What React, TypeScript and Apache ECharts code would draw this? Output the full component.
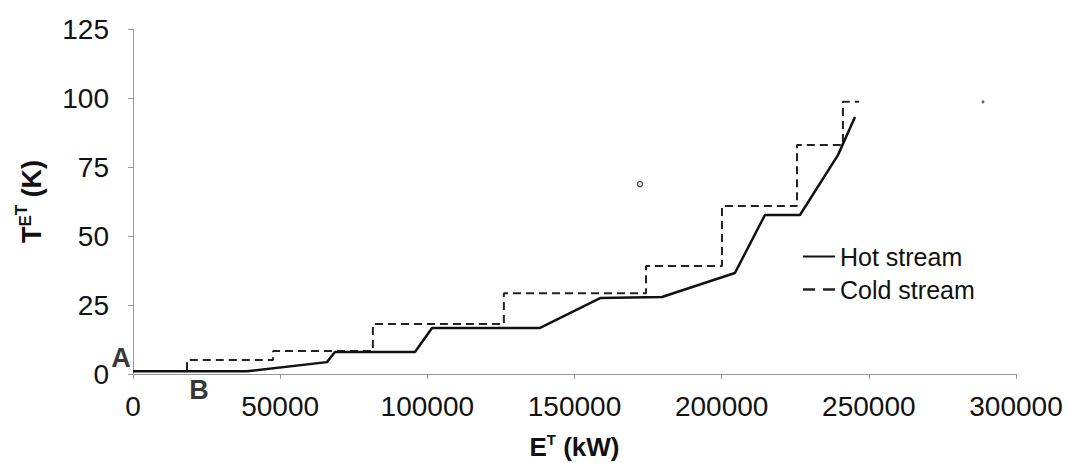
import React, { useEffect, useRef } from "react";
import * as echarts from "echarts";

// Hot stream composite curve (E^T in kW, T^ET in K)
const hotStream: [number, number][] = [
  [0, 1.0],
  [38700, 1.0],
  [65900, 4.3],
  [68600, 8.0],
  [95800, 8.0],
  [101600, 16.7],
  [138300, 16.7],
  [158700, 27.5],
  [179700, 27.9],
  [204500, 36.6],
  [214700, 57.6],
  [226600, 57.6],
  [239500, 79.3],
  [245300, 93.1],
];

// Cold stream composite curve
const coldStream: [number, number][] = [
  [18350, 1.4],
  [18350, 5.1],
  [47600, 5.1],
  [47600, 8.3],
  [81500, 8.3],
  [81500, 18.1],
  [126000, 18.1],
  [126000, 29.3],
  [174300, 29.3],
  [174300, 39.1],
  [200100, 39.1],
  [200100, 60.9],
  [225600, 60.9],
  [225600, 83.0],
  [241200, 83.0],
  [241200, 98.6],
  [246700, 98.6],
];

// Stray marks in the plot area
const strayHollow: [number, number][] = [[172250, 68.8]];
const strayDot: [number, number][] = [[288800, 98.6]];

// Point annotations
const pointA: [number, number] = [0, 1];
const pointB: [number, number] = [22400, 1];

const xTicks = { min: 0, max: 300000, interval: 50000 };
const yTicks = { min: 0, max: 125, interval: 25 };

const FONT = 'Arial, "Liberation Sans", Helvetica, sans-serif';

export default function App() {
  const ref = useRef<HTMLDivElement>(null);

  useEffect(() => {
    if (!ref.current) return;
    const chart = echarts.init(ref.current, undefined, { renderer: "svg" });
    chart.setOption({
      animation: false,
      backgroundColor: "#ffffff",
      textStyle: { fontFamily: FONT },
      grid: { left: 133, right: 55, top: 29, bottom: 89, containLabel: false, outerBoundsMode: "none" },
      legend: {
        orient: "vertical",
        left: 798,
        top: 239,
        itemWidth: 32,
        itemHeight: 10,
        itemGap: 8,
        textStyle: { fontSize: 25, color: "#111", fontFamily: FONT },
        data: [
          { name: "Hot stream", icon: "path://M0,0 L32,0 L32,2 L0,2 Z" },
          { name: "Cold stream", icon: "path://M0,0 L9,0 L9,2 L0,2 Z M15,0 L24,0 L24,2 L15,2 Z" },
        ],
      },
      xAxis: {
        type: "value",
        min: xTicks.min,
        max: xTicks.max,
        interval: xTicks.interval,
        splitLine: { show: false },
        axisLine: { lineStyle: { color: "#999", width: 1 } },
        axisTick: { show: true, length: 5, lineStyle: { color: "#999" } },
        axisLabel: {
          fontSize: 28,
          color: "#111",
          margin: 18,
          fontFamily: FONT,
          formatter: (v: number) => String(v),
        },
        name: "{b|E}{s|T}{b| (kW)}",
        nameLocation: "middle",
        nameGap: 58,
        nameTextStyle: {
          rich: {
            b: { fontSize: 26, fontWeight: "bold", color: "#111", fontFamily: FONT },
            s: { fontSize: 15, fontWeight: "bold", color: "#111", fontFamily: FONT, padding: [0, 0, 14, 0] },
          },
        },
      },
      yAxis: {
        type: "value",
        min: yTicks.min,
        max: yTicks.max,
        interval: yTicks.interval,
        splitLine: { show: false },
        axisLine: { show: true, lineStyle: { color: "#999", width: 1 } },
        axisTick: { show: true, length: 5, lineStyle: { color: "#999" } },
        axisLabel: { fontSize: 28, color: "#111", margin: 24, fontFamily: FONT },
        name: "{b|T}{s|E}{ss|T}{b| (K)}",
        nameLocation: "middle",
        nameGap: 83,
        nameRotate: 90,
        nameTextStyle: {
          rich: {
            b: { fontSize: 27, fontWeight: "bold", color: "#111", fontFamily: FONT },
            s: { fontSize: 17, fontWeight: "bold", color: "#111", fontFamily: FONT, padding: [0, 0, 12, 0] },
            ss: { fontSize: 17, fontWeight: "bold", color: "#111", fontFamily: FONT, padding: [0, 0, 20, 0] },
          },
        },
      },
      series: [
        {
          name: "Hot stream",
          type: "line",
          data: hotStream,
          symbol: "none",
          lineStyle: { color: "#111", width: 2.5, type: "solid" },
          itemStyle: { color: "#111" },
          z: 3,
        },
        {
          name: "Cold stream",
          type: "line",
          data: coldStream,
          symbol: "none",
          lineStyle: { color: "#222", width: 2, type: [8, 5] },
          itemStyle: { color: "#222" },
          z: 2,
        },
        {
          name: "strayHollow",
          type: "scatter",
          data: strayHollow,
          symbol: "circle",
          symbolSize: 5,
          itemStyle: { color: "#fff", borderColor: "#333", borderWidth: 1.5 },
          silent: true,
        },
        {
          name: "strayDot",
          type: "scatter",
          data: strayDot,
          symbol: "circle",
          symbolSize: 3,
          itemStyle: { color: "#444" },
          silent: true,
        },
        {
          name: "labels",
          type: "scatter",
          symbolSize: 0,
          silent: true,
          data: [
            {
              value: pointA,
              label: {
                show: true,
                formatter: "A",
                position: "inside",
                offset: [-12, -13],
                fontSize: 27,
                fontWeight: "bold",
                color: "#000",
                fontFamily: FONT,
              },
            },
            {
              value: pointB,
              label: {
                show: true,
                formatter: "B",
                position: "inside",
                offset: [0, 19],
                fontSize: 27,
                fontWeight: "bold",
                color: "#000",
                fontFamily: FONT,
              },
            },
          ],
          z: 5,
        },
      ],
    });
    return () => chart.dispose();
  }, []);

  return (
    <div
      ref={ref}
      style={{ position: "fixed", left: 0, top: 0, width: 1071, height: 463, background: "#fff" }}
    />
  );
}
